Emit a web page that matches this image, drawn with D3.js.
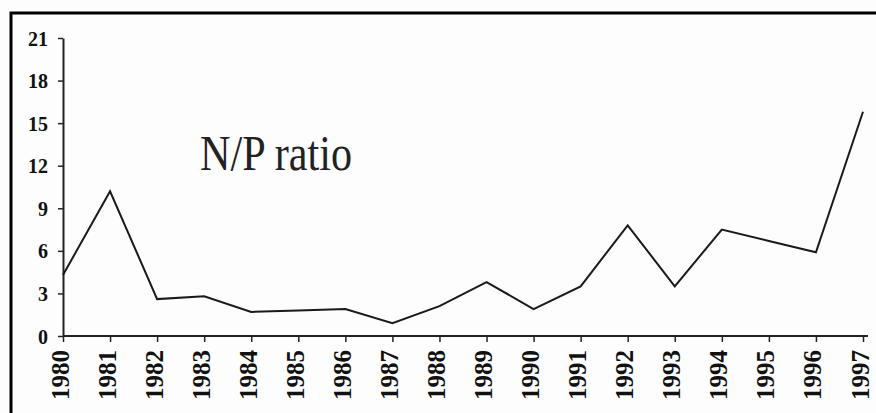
<!DOCTYPE html>
<html><head><meta charset="utf-8">
<script src="https://cdn.jsdelivr.net/npm/d3@7"></script>
<style>
html,body{margin:0;padding:0;background:#fff;}
svg{display:block;}
</style></head>
<body>
<script>
const years = [1980,1981,1982,1983,1984,1985,1986,1987,1988,1989,1990,1991,1992,1993,1994,1995,1996,1997];
const npRatio = [4.3,10.2,2.6,2.8,1.7,1.8,1.9,0.9,2.1,3.8,1.9,3.5,7.8,3.5,7.5,6.7,5.9,15.8];
const yTicks = [0,3,6,9,12,15,18,21];
const labelText = "N/P ratio";

const W = 876, H = 413;
const FONT = '"Liberation Serif"';
const svg = d3.select("body").append("svg").attr("width", W).attr("height", H);
svg.append("rect").attr("width", W).attr("height", H).attr("fill", "#fdfdfd");

// frame (right/bottom edges fall outside the picture)
svg.append("rect").attr("x", 11).attr("y", 13).attr("width", 1000).attr("height", 1000)
  .attr("fill", "none").attr("stroke", "#000").attr("stroke-width", 3);

const x = d3.scalePoint().domain(years).range([63, 863]);
const y = d3.scaleLinear().domain([0, 21]).range([336, 38]);

// y axis
const yAxis = svg.append("g").attr("transform", "translate(63,0)")
  .call(d3.axisLeft(y).tickValues(yTicks).tickSize(5).tickPadding(10).tickSizeOuter(0));
yAxis.select(".domain").attr("stroke", "#222").attr("stroke-width", 2);
yAxis.selectAll(".tick line").attr("stroke", "#222").attr("stroke-width", 1.5);
yAxis.selectAll(".tick text").style("font-family", FONT).style("font-weight", "bold")
  .style("font-size", "20px").attr("fill", "#111").attr("dy", "0.35em");

// x axis
const xAxis = svg.append("g").attr("transform", "translate(0,336)")
  .call(d3.axisBottom(x).tickSize(6).tickSizeOuter(0));
xAxis.select(".domain").attr("stroke", "#222").attr("stroke-width", 2)
  .attr("d", "M63,0H868");
xAxis.selectAll(".tick line").attr("stroke", "#222").attr("stroke-width", 1.5);
xAxis.selectAll(".tick text").style("font-family", FONT)
  .style("font-weight", "bold").style("font-size", "25px").attr("fill", "#111")
  .attr("text-anchor", "end").attr("y", 0).attr("dy", 0)
  .attr("transform", "translate(5,14) rotate(-90)");

// line
const line = d3.line().x((d, i) => x(years[i])).y(d => y(d));
svg.append("path").datum(npRatio).attr("d", line)
  .attr("fill", "none").attr("stroke", "#1a1a1a").attr("stroke-width", 2);

// label
svg.append("text").attr("x", 200).attr("y", 170).text(labelText)
  .style("font-family", FONT).style("font-size", "50px").attr("fill", "#222")
  .attr("textLength", 152).attr("lengthAdjust", "spacingAndGlyphs");
</script>
</body></html>
